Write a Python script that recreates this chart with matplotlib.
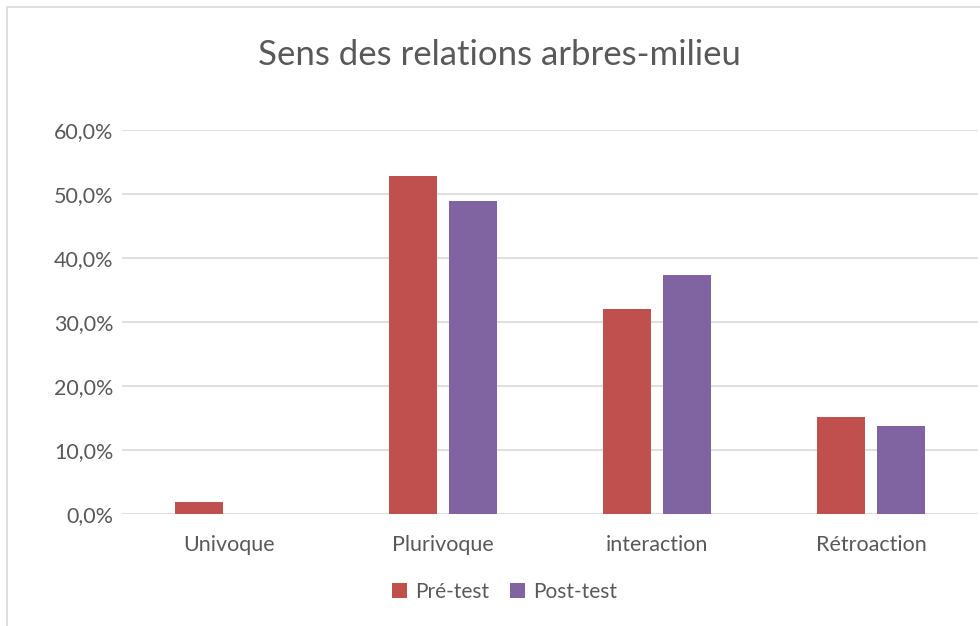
import numpy as np
import matplotlib.pyplot as plt
from matplotlib.patches import Rectangle
from matplotlib.ticker import FuncFormatter

categories = ['Univoque', 'Plurivoque', 'interaction', 'Rétroaction']
pre_test = [1.9, 52.8, 32.1, 15.1]
post_test = [0.0, 49.0, 37.3, 13.7]
series_names = ['Pré-test', 'Post-test']
yticks = [0, 10, 20, 30, 40, 50, 60]

red = '#C0504D'
purple = '#8064A2'
txt = '#595959'
grid = '#D9D9D9'

plt.rcParams['font.family'] = ['Lato', 'DejaVu Sans']

fig = plt.figure(figsize=(9.8, 6.26), dpi=100)
ax = fig.add_axes([0.1245, 0.179, 0.8735, 0.613])

x = np.arange(len(categories))
w = 0.224
ax.bar(x - 0.142, pre_test, w, color=red, label=series_names[0], zorder=3)
ax.bar(x + 0.142, post_test, w, color=purple, label=series_names[1], zorder=3)

ax.set_xlim(-0.5, len(categories) - 0.5)
ax.set_ylim(0, 60)
ax.set_yticks(yticks)
ax.yaxis.set_major_formatter(FuncFormatter(lambda v, p: ('%.1f%%' % v).replace('.', ',')))
ax.set_xticks(x)
ax.set_xticklabels(categories)
ax.grid(axis='y', color=grid, lw=1.2, zorder=0)
for s in ax.spines.values():
    s.set_visible(False)
ax.tick_params(length=0, labelsize=15.5, colors=txt)
ax.tick_params(axis='x', pad=15)
ax.tick_params(axis='y', pad=6)

# title, a bit lighter like the office default
fig.text(0.51, 0.912, 'Sens des relations arbres-milieu', ha='center', va='center',
         fontsize=25, color=txt, fontweight='book')

leg = fig.legend(loc='center', bbox_to_anchor=(0.515, 0.055), ncol=2, frameon=False,
                 fontsize=15, handlelength=0.7, handleheight=0.7, handletextpad=0.4,
                 columnspacing=1.0)
for t in leg.get_texts():
    t.set_color(txt)

fig.patches.append(Rectangle((7 / 980, -0.01), 1.0, 1 - 7 / 626 + 0.01, transform=fig.transFigure,
                             fill=False, edgecolor='#D9D9D9', lw=1.2))

fig.savefig('out.png', dpi=100)
